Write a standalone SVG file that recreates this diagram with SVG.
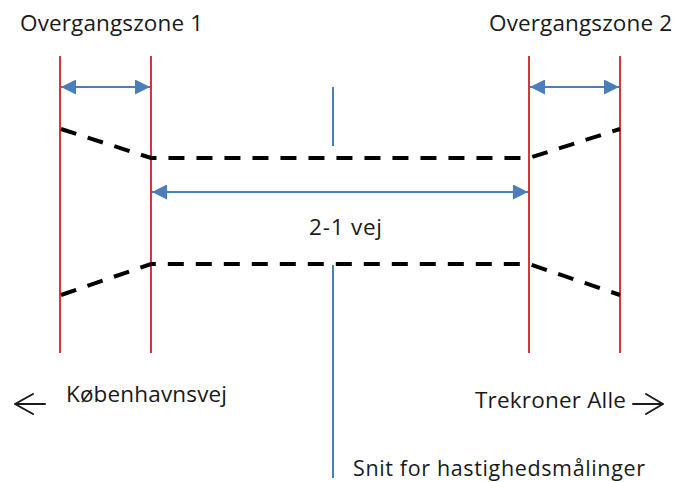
<svg xmlns="http://www.w3.org/2000/svg" width="677" height="482" viewBox="0 0 677 482">
  <style>
    .lbl { font-family: "Open Sans", "Liberation Sans", sans-serif; font-size: 22.5px; fill: #1a1a1a; }
    .small { font-size: 21.5px; }
    .zone { stroke: #d3363b; stroke-width: 2; fill: none; }
    .road { stroke: #000; stroke-width: 4; fill: none; stroke-dasharray: 16 12; }
    .dim { stroke: #4a7ebb; stroke-width: 2; fill: none; }
    .dir { stroke: #1a1a1a; stroke-width: 2; fill: none; stroke-linecap: round; stroke-linejoin: round; }
  </style>
  <defs>
    <marker id="blueHead" viewBox="0 0 10 10" refX="10" refY="5" markerUnits="userSpaceOnUse" markerWidth="17" markerHeight="15" orient="auto-start-reverse">
      <path d="M0,0 L10,5 L0,10 Z" fill="#4a7ebb"/>
    </marker>
  </defs>

  <!-- zone boundaries -->
  <g id="zone-boundaries">
    <line class="zone" x1="60" y1="56" x2="60" y2="353"/>
    <line class="zone" x1="151" y1="56" x2="151" y2="353"/>
    <line class="zone" x1="529" y1="56" x2="529" y2="353"/>
    <line class="zone" x1="620" y1="56" x2="620" y2="353"/>
  </g>

  <!-- road edges (dashed) -->
  <g id="road-edges">
    <polyline class="road" points="61,129 151,158 529,158 620,129"/>
    <polyline class="road" points="61,295 151,264 529,264 620,295"/>
  </g>

  <!-- dimension arrows and measuring section -->
  <g id="connectors">
    <line class="dim" x1="61" y1="87" x2="150" y2="87" marker-start="url(#blueHead)" marker-end="url(#blueHead)"/>
    <line class="dim" x1="530" y1="87" x2="619" y2="87" marker-start="url(#blueHead)" marker-end="url(#blueHead)"/>
    <line class="dim" x1="152" y1="192" x2="528" y2="192" marker-start="url(#blueHead)" marker-end="url(#blueHead)"/>
    <line class="dim" x1="333" y1="87" x2="333" y2="146"/>
    <line class="dim" x1="333" y1="265" x2="333" y2="478"/>
  </g>

  <!-- direction arrows -->
  <g id="direction-west">
    <path class="dir" d="M45,404 H15 M33,394 L15,404 L33,414"/>
  </g>
  <g id="direction-east">
    <path class="dir" d="M633,404 H663 M646,394 L663,404 L646,414"/>
  </g>

  <!-- labels -->
  <g id="label-zone1"><text class="lbl" x="20" y="31" textLength="183">Overgangszone 1</text></g>
  <g id="label-zone2"><text class="lbl" x="489" y="31" textLength="183">Overgangszone 2</text></g>
  <g id="label-road"><text class="lbl" x="309" y="235" textLength="73">2-1 vej</text></g>
  <g id="label-west"><text class="lbl" x="66" y="402" textLength="161">Københavnsvej</text></g>
  <g id="label-east"><text class="lbl" x="475" y="408" textLength="151">Trekroner Alle</text></g>
  <g id="label-section"><text class="lbl small" x="353" y="476" textLength="292">Snit for hastighedsmålinger</text></g>
</svg>
